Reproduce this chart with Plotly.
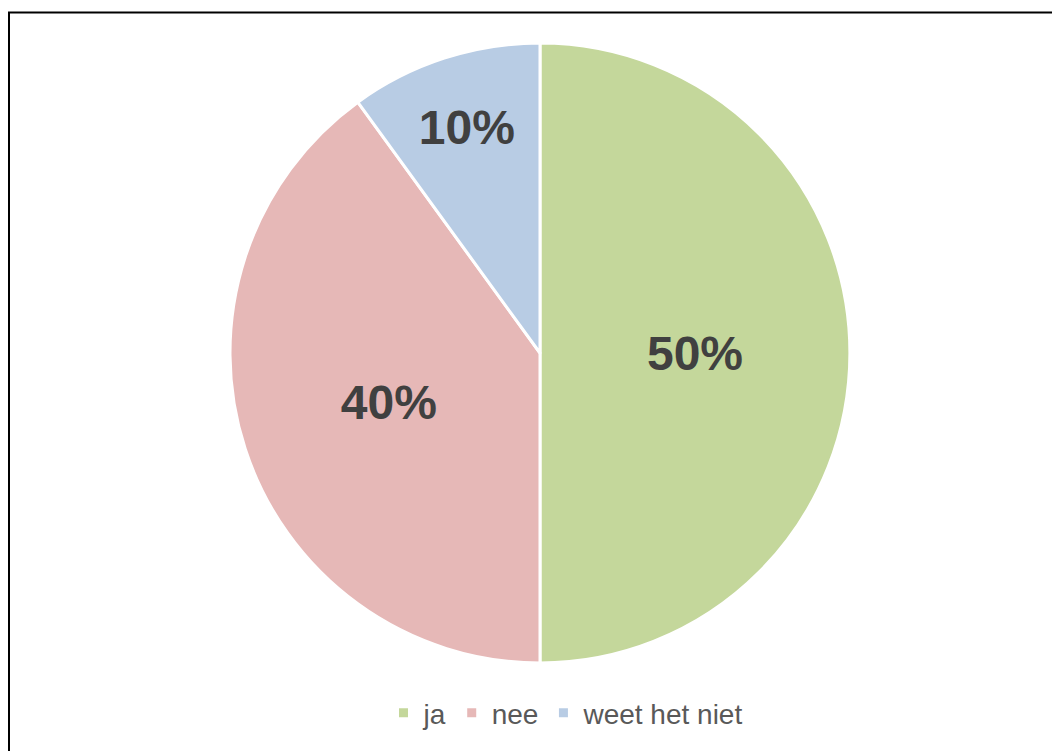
import plotly.graph_objects as go

labels = ["ja", "nee", "weet het niet"]
values = [50, 40, 10]
colors = ["#C4D79B", "#E6B8B7", "#B8CCE4"]

W, H = 1060, 751
off = 8  # page body margin
cx, cy, r = 540 - off, 353 - off, 310

fig = go.Figure(go.Pie(
    labels=labels,
    values=values,
    sort=False,
    direction="clockwise",
    rotation=0,
    marker=dict(colors=colors, line=dict(color="white", width=3)),
    textinfo="percent",
    texttemplate="%{percent:.0%}",
    textposition="inside",
    insidetextorientation="horizontal",
    textfont=dict(family="Liberation Sans, Arial", size=48, color="#404040", weight="bold"),
    domain=dict(x=[(cx - r) / W, (cx + r) / W], y=[1 - (cy + r) / H, 1 - (cy - r) / H]),
    hoverinfo="label+percent",
))

fig.update_layout(
    width=W, height=H,
    margin=dict(l=0, r=0, t=0, b=0),
    paper_bgcolor="white",
    plot_bgcolor="white",
    showlegend=True,
    legend=dict(
        orientation="h",
        x=(566 - off) / W, xanchor="center",
        y=1 - (713 - off) / H, yanchor="middle",
        font=dict(family="Liberation Sans, Arial", size=28, color="#595959"),
        itemwidth=30,
        tracegroupgap=0,
    ),
    shapes=[dict(
        type="rect", xref="paper", yref="paper",
        x0=(9 - off) / W, y0=-0.05, x1=1.05, y1=1 - (12.5 - off) / H,
        line=dict(color="black", width=2),
        fillcolor="rgba(0,0,0,0)",
    )],
    uniformtext=dict(minsize=10, mode="show"),
)

fig.write_html("out.html")
